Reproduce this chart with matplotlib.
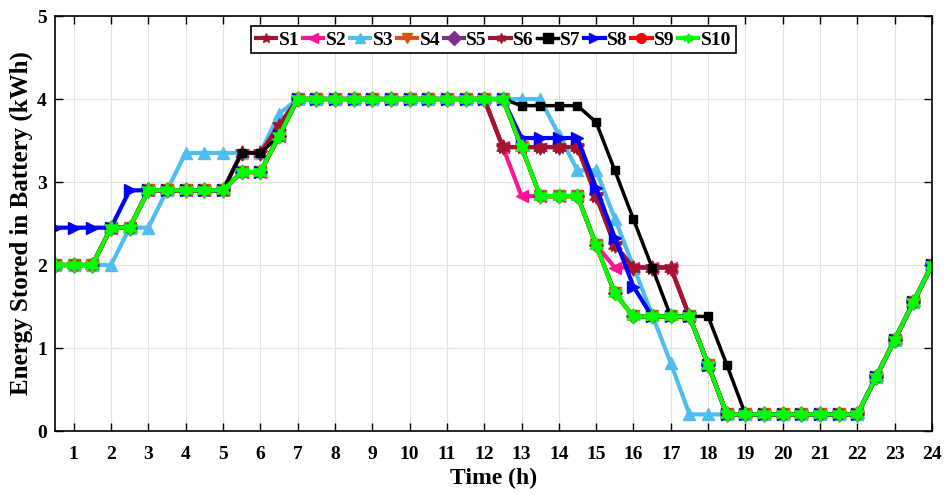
import numpy as np
import matplotlib
matplotlib.use("Agg")
import matplotlib.pyplot as plt

plt.rcParams['font.family'] = ['Liberation Serif', 'DejaVu Serif']
plt.rcParams['font.weight'] = 'bold'

# half-hour time steps
time_h = np.arange(1, 49) * 0.5

# battery energy (kWh) for each scenario
s10 = [2.0, 2.0, 2.0, 2.45, 2.45, 2.9, 2.9, 2.9, 2.9, 2.9, 3.12, 3.12, 3.55, 4.0,
       4.0, 4.0, 4.0, 4.0, 4.0, 4.0, 4.0, 4.0, 4.0, 4.0, 4.0,
       3.42, 2.83, 2.83, 2.83, 2.24, 1.66, 1.38, 1.38, 1.38, 1.38, 0.8, 0.2,
       0.2, 0.2, 0.2, 0.2, 0.2, 0.2, 0.2,
       0.65, 1.1, 1.55, 2.0]
s9 = list(s10)
s5 = list(s10)
s4 = list(s10)
s2 = [2.0, 2.0, 2.0, 2.45, 2.45, 2.9, 2.9, 2.9, 2.9, 2.9, 3.12, 3.12, 3.55, 4.0,
      4.0, 4.0, 4.0, 4.0, 4.0, 4.0, 4.0, 4.0, 4.0, 4.0, 3.42,
      2.83, 2.83, 2.83, 2.83, 2.24, 1.97, 1.97, 1.97, 1.97, 1.38, 0.8, 0.2,
      0.2, 0.2, 0.2, 0.2, 0.2, 0.2, 0.2,
      0.65, 1.1, 1.55, 2.0]
s6 = [2.0, 2.0, 2.0, 2.45, 2.45, 2.9, 2.9, 2.9, 2.9, 2.9, 3.35, 3.35, 3.68, 4.0,
      4.0, 4.0, 4.0, 4.0, 4.0, 4.0, 4.0, 4.0, 4.0, 4.0, 3.42,
      3.42, 3.42, 3.42, 3.42, 2.83, 2.24, 1.97, 1.97, 1.97, 1.38, 0.8, 0.2,
      0.2, 0.2, 0.2, 0.2, 0.2, 0.2, 0.2,
      0.65, 1.1, 1.55, 2.0]
s1 = list(s6)
s3 = [2.0, 2.0, 2.0, 2.0, 2.45, 2.45, 2.9, 3.35, 3.35, 3.35, 3.35, 3.35, 3.82, 4.0,
      4.0, 4.0, 4.0, 4.0, 4.0, 4.0, 4.0, 4.0, 4.0, 4.0, 4.0,
      4.0, 4.0, 3.57, 3.14, 3.14, 2.56, 1.98, 1.4, 0.82, 0.2, 0.2, 0.2,
      0.2, 0.2, 0.2, 0.2, 0.2, 0.2, 0.2,
      0.65, 1.1, 1.55, 2.0]
s7 = [2.0, 2.0, 2.0, 2.45, 2.45, 2.9, 2.9, 2.9, 2.9, 2.9, 3.35, 3.35, 3.55, 4.0,
      4.0, 4.0, 4.0, 4.0, 4.0, 4.0, 4.0, 4.0, 4.0, 4.0, 4.0,
      3.92, 3.92, 3.92, 3.92, 3.72, 3.14, 2.55, 1.97, 1.38, 1.38, 1.38, 0.8,
      0.2, 0.2, 0.2, 0.2, 0.2, 0.2, 0.2,
      0.65, 1.1, 1.55, 2.0]
s8 = [2.45, 2.45, 2.45, 2.45, 2.9, 2.9, 2.9, 2.9, 2.9, 2.9, 3.12, 3.12, 3.55, 4.0,
      4.0, 4.0, 4.0, 4.0, 4.0, 4.0, 4.0, 4.0, 4.0, 4.0, 4.0,
      3.53, 3.53, 3.53, 3.53, 2.93, 2.33, 1.74, 1.38, 1.38, 1.38, 0.8, 0.2,
      0.2, 0.2, 0.2, 0.2, 0.2, 0.2, 0.2,
      0.65, 1.1, 1.55, 2.0]

names = ['S1', 'S2', 'S3', 'S4', 'S5', 'S6', 'S7', 'S8', 'S9', 'S10']
series = [s1, s2, s3, s4, s5, s6, s7, s8, s9, s10]
colors = ['#A2142F', '#FF1493', '#4DBEEE', '#D95319', '#7E2F8E',
          '#A2142F', '#000000', '#0000FF', '#FF0000', '#00FF00']
hexagram = (6, 1, 0)
markers = ['*', '<', '^', 'v', 'D', hexagram, 's', '>', 'o', hexagram]
msizes = [10, 8, 9, 8, 7, 11, 6, 9, 7, 11]
lwidths = [3, 3, 3, 3, 3, 3, 2.5, 3, 3, 3]

fig = plt.figure(figsize=(9.44, 4.94), dpi=100)
ax = fig.add_axes([0.0583, 0.1275, 0.929, 0.8401])

for y, name, c, m, ms, lw in zip(series, names, colors, markers, msizes, lwidths):
    ax.plot(time_h, y, color=c, marker=m, markersize=ms, linewidth=lw,
            markeredgecolor=c, label=name)

ax.set_xlim(0.5, 24)
ax.set_ylim(0, 5)
ax.set_xticks(range(1, 25))
ax.set_yticks(range(0, 6))
ax.grid(True, color='#E3E3E3', linewidth=0.8)
ax.set_axisbelow(True)
ax.tick_params(direction='in', top=True, right=True, length=6, width=1,
               labelsize=14)
ax.tick_params(axis='x', pad=11)
ax.tick_params(axis='y', pad=6)
for sp in ax.spines.values():
    sp.set_linewidth(1.2)

ax.set_xlabel('Time (h)', fontsize=17, fontweight='bold', labelpad=3)
ax.set_ylabel('Energy Stored in Battery (kWh)', fontsize=18, fontweight='bold', labelpad=3)

leg = ax.legend(loc='upper center', bbox_to_anchor=(0.5, 0.985), ncol=10,
                fancybox=False, edgecolor='black', framealpha=1,
                handlelength=1.05, handletextpad=0.12,
                columnspacing=0.18, borderpad=0.25, borderaxespad=0.2,
                prop={'weight': 'bold', 'size': 14})
leg.get_frame().set_linewidth(1.2)
for h in leg.legend_handles:
    h.set_markersize(7)

fig.savefig('out.png', dpi=100)
